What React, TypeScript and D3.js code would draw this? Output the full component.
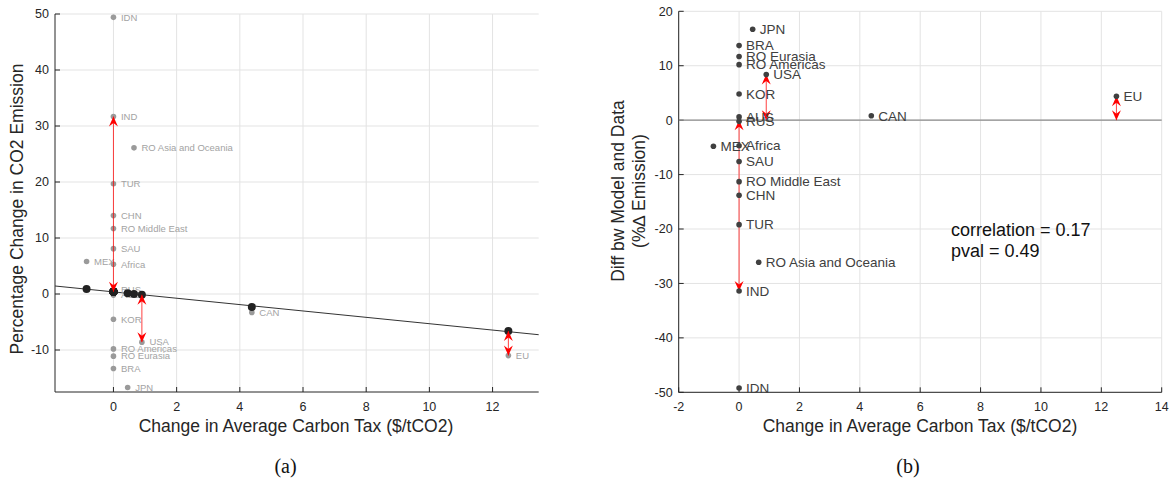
import React from 'react';
import * as d3 from 'd3';

// regions, in the order they are listed
const regions = [
  'IDN', 'IND', 'RO Asia and Oceania', 'TUR', 'CHN', 'RO Middle East', 'SAU', 'MEX', 'Africa',
  'RUS', 'AUS', 'KOR', 'USA', 'RO Americas', 'RO Eurasia', 'BRA', 'JPN', 'CAN', 'EU'
];
// change in average carbon tax ($/tCO2)
const taxChange = [0, 0, 0.65, 0, 0, 0, 0, -0.85, 0, 0, 0, 0, 0.9, 0, 0, 0, 0.45, 4.38, 12.5];
// % change in CO2 emission, data (grey) and model (black)
const emissionData = [49.4, 31.7, 26.1, 19.7, 14.0, 11.7, 8.1, 5.8, 5.3, 0.7, -0.2, -4.5, -8.6, -9.8, -11.1, -13.3, -16.7, -3.3, -11.0];
const emissionModel = [0.38, 0.38, 0.02, 0.38, 0.38, 0.38, 0.38, 0.88, 0.38, 0.38, 0.38, 0.38, -0.12, 0.38, 0.38, 0.38, 0.12, -2.3, -6.6];
// diff between model and data (panel b)
const modelDataDiff = [-49.2, -31.4, -26.1, -19.2, -13.8, -11.3, -7.6, -4.8, -4.7, -0.2, 0.6, 4.8, 8.4, 10.2, 11.7, 13.7, 16.7, 0.8, 4.4];
const highlighted = ['IND', 'USA', 'EU'];

// fitted line in panel a
const fitX = [-1.85, 13.46];
const fitY = [1.43, -7.27];

const xDomainA = [-1.85, 13.46];
const yDomainA = [-17.5, 50];
const xTicksA = [0, 2, 4, 6, 8, 10, 12];
const yTicksA = [-10, 0, 10, 20, 30, 40, 50];

const xDomainB = [-2, 14];
const yDomainB = [-50, 20];
const xTicksB = [-2, 0, 2, 4, 6, 8, 10, 12, 14];
const yTicksB = [-50, -40, -30, -20, -10, 0, 10, 20];

const corrText = ['correlation = 0.17', 'pval = 0.49'];

const FONT = '"Liberation Sans", Arial, Helvetica, sans-serif';
const AXIS = '#262626';
const GRID = '#e3e3e3';

type Lin = d3.ScaleLinear<number, number>;

function Frame({ x, y, xTicks, yTicks }: { x: Lin; y: Lin; xTicks: number[]; yTicks: number[] }) {
  const [x0, x1] = x.range();
  const [y0, y1] = y.range();
  return (
    <g>
      {xTicks.map(t => (
        <line key={'gx' + t} x1={x(t)} x2={x(t)} y1={y0} y2={y1} stroke={GRID} strokeWidth={1} />
      ))}
      {yTicks.map(t => (
        <line key={'gy' + t} x1={x0} x2={x1} y1={y(t)} y2={y(t)} stroke={GRID} strokeWidth={1} />
      ))}
      <line x1={x0} x2={x1} y1={y0} y2={y0} stroke={AXIS} strokeWidth={1} />
      <line x1={x0} x2={x0} y1={y0} y2={y1} stroke={AXIS} strokeWidth={1} />
      {xTicks.map(t => (
        <g key={'tx' + t}>
          <line x1={x(t)} x2={x(t)} y1={y0} y2={y0 - 5} stroke={AXIS} />
          <text x={x(t)} y={y0 + 18.5} textAnchor="middle" fontSize={12.5} fill={AXIS} fontFamily={FONT}>{t}</text>
        </g>
      ))}
      {yTicks.map(t => (
        <g key={'ty' + t}>
          <line x1={x0} x2={x0 + 5} y1={y(t)} y2={y(t)} stroke={AXIS} />
          <text x={x0 - 6} y={y(t)} dy="0.35em" textAnchor="end" fontSize={12.5} fill={AXIS} fontFamily={FONT}>{t}</text>
        </g>
      ))}
    </g>
  );
}

// double headed red arrow between two pixel positions on a vertical
function Arrow({ px, pa, pb }: { px: number; pa: number; pb: number }) {
  const L = 10, W = 4.5, N = 3.5;
  const head = (tip: number, dir: number) =>
    `M${px},${tip} L${px - W},${tip - dir * L} L${px},${tip - dir * (L - N)} L${px + W},${tip - dir * L} Z`;
  const up = Math.min(pa, pb);
  const down = Math.max(pa, pb);
  return (
    <g>
      <line x1={px} x2={px} y1={up} y2={down} stroke="#f00" strokeOpacity={0.75} strokeWidth={1} />
      <path d={head(up, -1)} fill="#f00" />
      <path d={head(down, 1)} fill="#f00" />
    </g>
  );
}

export default function App() {
  const xA = d3.scaleLinear().domain(xDomainA).range([55, 538.7]);
  const yA = d3.scaleLinear().domain(yDomainA).range([392, 14]);
  const xB = d3.scaleLinear().domain(xDomainB).range([678.7, 1161.7]);
  const yB = d3.scaleLinear().domain(yDomainB).range([392.3, 11.3]);

  const fitLine = d3.line<number>().x((d, i) => xA(fitX[i])).y(d => yA(d));
  const idx = regions.map((_, i) => i);
  const hi = idx.filter(i => highlighted.includes(regions[i]));

  return (
    <svg width={1173} height={485} style={{ position: 'absolute', left: 0, top: 0, background: '#fff' }}>
      {/* panel (a) */}
      <Frame x={xA} y={yA} xTicks={xTicksA} yTicks={yTicksA} />
      <path d={fitLine(fitY) || ''} stroke="#333" strokeWidth={1} fill="none" />
      {idx.map(i => (
        <circle key={'d' + i} cx={xA(taxChange[i])} cy={yA(emissionData[i])} r={2.8} fill="#9a9a9a" />
      ))}
      {idx.map(i => (
        <text key={'l' + i} x={xA(taxChange[i]) + 7.5} y={yA(emissionData[i])} dy="0.35em" fontSize={9.5}
          fill="#a3a3a3" fontFamily={FONT}>{regions[i]}</text>
      ))}
      {idx.map(i => (
        <circle key={'m' + i} cx={xA(taxChange[i])} cy={yA(emissionModel[i])} r={4} fill="#222" />
      ))}
      {hi.map(i => (
        <Arrow key={'aa' + i} px={xA(taxChange[i])} pa={yA(emissionModel[i])} pb={yA(emissionData[i])} />
      ))}
      <text x={296} y={432} textAnchor="middle" fontSize={17.5} fill={AXIS} fontFamily={FONT}>
        Change in Average Carbon Tax ($/tCO2)
      </text>
      <text transform="translate(23,209) rotate(-90)" textAnchor="middle" fontSize={17.5} fill={AXIS} fontFamily={FONT}>
        Percentage Change in CO2 Emission
      </text>
      <text x={285.5} y={473} textAnchor="middle" fontSize={20} fill="#111" fontFamily='"Liberation Serif", "DejaVu Serif", serif'>(a)</text>

      {/* panel (b) */}
      <Frame x={xB} y={yB} xTicks={xTicksB} yTicks={yTicksB} />
      <line x1={xB.range()[0]} x2={xB.range()[1]} y1={yB(0)} y2={yB(0)} stroke="#8c8c8c" strokeWidth={1.2} />
      {hi.map(i => (
        <Arrow key={'ab' + i} px={xB(taxChange[i])} pa={yB(0)} pb={yB(modelDataDiff[i])} />
      ))}
      {idx.map(i => (
        <circle key={'bd' + i} cx={xB(taxChange[i])} cy={yB(modelDataDiff[i])} r={2.8} fill="#404040" />
      ))}
      {idx.map(i => (
        <text key={'bl' + i} x={xB(taxChange[i]) + 7} y={yB(modelDataDiff[i])} dy="0.35em" fontSize={13.5}
          fill="#404040" fontFamily={FONT}>{regions[i]}</text>
      ))}
      {corrText.map((t, k) => (
        <text key={t} x={951} y={235.5 + k * 21} fontSize={18} fill="#111" fontFamily={FONT}>{t}</text>
      ))}
      <text x={920} y={432} textAnchor="middle" fontSize={17.5} fill={AXIS} fontFamily={FONT}>
        Change in Average Carbon Tax ($/tCO2)
      </text>
      <text transform="translate(624,191) rotate(-90)" textAnchor="middle" fontSize={17.5} fill={AXIS} fontFamily={FONT}>
        Diff bw Model and Data
      </text>
      <text transform="translate(645,191) rotate(-90)" textAnchor="middle" fontSize={17.5} fill={AXIS} fontFamily={FONT}>
        (%∆ Emission)
      </text>
      <text x={908} y={473} textAnchor="middle" fontSize={20} fill="#111" fontFamily='"Liberation Serif", "DejaVu Serif", serif'>(b)</text>
    </svg>
  );
}
